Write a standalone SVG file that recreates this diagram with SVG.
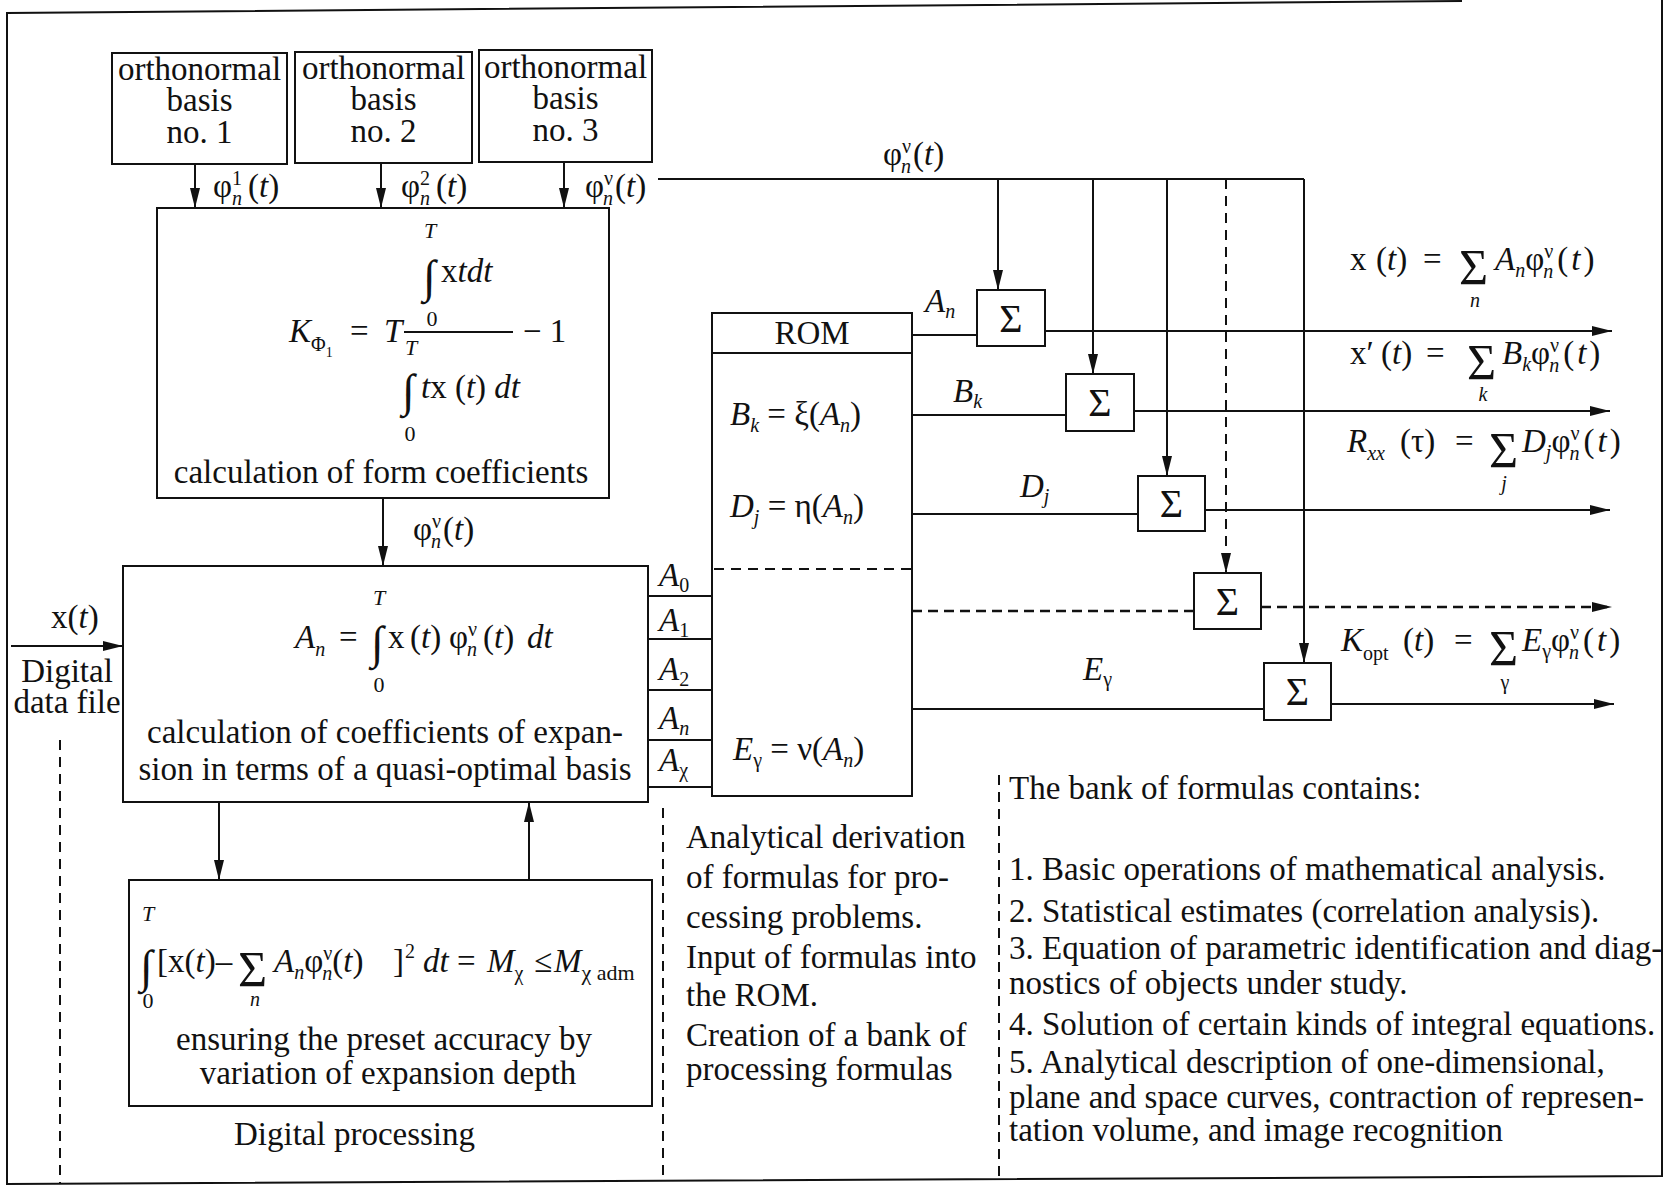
<svg xmlns="http://www.w3.org/2000/svg" width="1669" height="1189" viewBox="0 0 1669 1189">
<defs>
<style>
text{font-family:"Liberation Serif","Times New Roman",serif;font-size:33px;fill:#111}
.i{font-style:italic}
.s{font-size:20px}
.m{text-anchor:middle}
.lim{font-size:22px;text-anchor:middle}
.int{font-size:46px}
.sig{font-size:40px}
.box{fill:#fff;stroke:#111;stroke-width:2}
.ln{fill:none;stroke:#111;stroke-width:2}
.dash{fill:none;stroke:#111;stroke-width:2;stroke-dasharray:10 7}
.dashb{fill:none;stroke:#111;stroke-width:2.6;stroke-dasharray:10 6}
</style>
<marker id="ah" viewBox="0 0 20 10" refX="20" refY="5" markerWidth="20" markerHeight="10" markerUnits="userSpaceOnUse" orient="auto"><path d="M0,0 L20,5 L0,10 Z" fill="#111"/></marker>
</defs>
<rect width="1669" height="1189" fill="#fff"/>
<path class="ln" d="M1462,1 L7,13 L7,1184 L1662,1176 L1662,0"/>

<g id="connectors">
<line class="ln" x1="195" y1="164" x2="195" y2="208" marker-end="url(#ah)"/>
<line class="ln" x1="381" y1="163" x2="381" y2="208" marker-end="url(#ah)"/>
<line class="ln" x1="564" y1="162" x2="564" y2="208" marker-end="url(#ah)"/>
<line class="ln" x1="658" y1="179" x2="1304" y2="179"/>
<line class="ln" x1="998" y1="179" x2="998" y2="290" marker-end="url(#ah)"/>
<line class="ln" x1="1093" y1="179" x2="1093" y2="374" marker-end="url(#ah)"/>
<line class="ln" x1="1167" y1="179" x2="1167" y2="476" marker-end="url(#ah)"/>
<line class="dash" x1="1226" y1="179" x2="1226" y2="573" marker-end="url(#ah)"/>
<line class="ln" x1="1304" y1="179" x2="1304" y2="663" marker-end="url(#ah)"/>
<line class="ln" x1="383" y1="498" x2="383" y2="566" marker-end="url(#ah)"/>
<line class="ln" x1="11" y1="646" x2="123" y2="646" marker-end="url(#ah)"/>
<line class="ln" x1="219" y1="802" x2="219" y2="880" marker-end="url(#ah)"/>
<line class="ln" x1="529" y1="880" x2="529" y2="802" marker-end="url(#ah)"/>
<line class="ln" x1="912" y1="335" x2="977" y2="335"/>
<line class="ln" x1="1045" y1="331" x2="1612" y2="331" marker-end="url(#ah)"/>
<line class="ln" x1="912" y1="415" x2="1066" y2="415"/>
<line class="ln" x1="1134" y1="411" x2="1610" y2="411" marker-end="url(#ah)"/>
<line class="ln" x1="912" y1="514" x2="1138" y2="514"/>
<line class="ln" x1="1205" y1="510" x2="1610" y2="510" marker-end="url(#ah)"/>
<line class="dashb" x1="912" y1="611" x2="1194" y2="611"/>
<line class="dashb" x1="1261" y1="607" x2="1612" y2="607" marker-end="url(#ah)"/>
<line class="ln" x1="912" y1="709" x2="1264" y2="709"/>
<line class="ln" x1="1331" y1="704" x2="1614" y2="704" marker-end="url(#ah)"/>
<line class="dash" x1="60" y1="740" x2="60" y2="1183"/>
<line class="dash" x1="663" y1="808" x2="663" y2="1182"/>
<line class="dash" x1="999" y1="775" x2="999" y2="1180"/>
</g>

<g id="labels">
<text x="213" y="197">φ<tspan class="s" dy="-12">1</tspan><tspan class="s i" dx="-10" dy="20">n</tspan><tspan dy="-8" dx="6">(<tspan class="i">t</tspan>)</tspan></text>
<text x="401" y="197">φ<tspan class="s" dy="-12">2</tspan><tspan class="s i" dx="-10" dy="20">n</tspan><tspan dy="-8" dx="6">(<tspan class="i">t</tspan>)</tspan></text>
<text x="585" y="197">φ<tspan class="s" dy="-12">ν</tspan><tspan class="s i" dx="-10" dy="20">n</tspan><tspan dy="-8" dx="2">(<tspan class="i">t</tspan>)</tspan></text>
<text x="883" y="165">φ<tspan class="s" dy="-12">ν</tspan><tspan class="s i" dx="-10" dy="20">n</tspan><tspan dy="-8" dx="2">(<tspan class="i">t</tspan>)</tspan></text>
<text x="413" y="540">φ<tspan class="s" dy="-12">ν</tspan><tspan class="s i" dx="-10" dy="20">n</tspan><tspan dy="-8" dx="2">(<tspan class="i">t</tspan>)</tspan></text>
<text x="51" y="628">x(<tspan class="i">t</tspan>)</text>
<text class="m" x="67" y="682">Digital</text>
<text class="m" x="67" y="713">data file</text>
<text x="925" y="312"><tspan class="i">A</tspan><tspan class="s i" dy="6">n</tspan></text>
<text x="953" y="402"><tspan class="i">B</tspan><tspan class="s i" dy="6">k</tspan></text>
<text x="1020" y="497"><tspan class="i">D</tspan><tspan class="s i" dy="6">j</tspan></text>
<text x="1083" y="680"><tspan class="i">E</tspan><tspan class="s" dy="6">γ</tspan></text>
</g>

<g id="basis1">
<rect class="box" x="112" y="53" width="175" height="111"/>
<text class="m" x="199.5" y="80">orthonormal</text>
<text class="m" x="199.5" y="111">basis</text>
<text class="m" x="199.5" y="143">no. 1</text>
</g>
<g id="basis2">
<rect class="box" x="295" y="52" width="177" height="111"/>
<text class="m" x="383.5" y="79">orthonormal</text>
<text class="m" x="383.5" y="110">basis</text>
<text class="m" x="383.5" y="142">no. 2</text>
</g>
<g id="basis3">
<rect class="box" x="479" y="50" width="173" height="112"/>
<text class="m" x="565.5" y="78">orthonormal</text>
<text class="m" x="565.5" y="109">basis</text>
<text class="m" x="565.5" y="141">no. 3</text>
</g>

<g id="form-coefficients">
<rect class="box" x="157" y="208" width="452" height="290"/>
<text class="lim i" x="430" y="238">T</text>
<text class="int" x="423" y="292">∫</text>
<text x="441" y="282">x<tspan class="i">tdt</tspan></text>
<text class="lim" x="432" y="326">0</text>
<text x="289" y="342"><tspan class="i">K</tspan><tspan class="s" dy="9">Φ</tspan><tspan font-size="14" dy="6">1</tspan></text>
<text x="350" y="342">=</text>
<text class="i" x="384" y="342">T</text>
<line class="ln" x1="404" y1="332" x2="513" y2="332"/>
<text x="523" y="342">− 1</text>
<text class="lim i" x="411" y="355">T</text>
<text class="int" x="402" y="406">∫</text>
<text x="421" y="398"><tspan class="i">t</tspan>x (<tspan class="i">t</tspan>) <tspan class="i">dt</tspan></text>
<text class="lim" x="410" y="441">0</text>
<text class="m" x="381" y="483">calculation of form coefficients</text>
</g>

<g id="expansion-coefficients">
<rect class="box" x="123" y="566" width="525" height="236"/>
<text class="lim i" x="379" y="605">T</text>
<text x="295" y="648"><tspan class="i">A</tspan><tspan class="s i" dy="8">n</tspan></text>
<text x="339" y="648">=</text>
<text class="int" x="371" y="658">∫</text>
<text x="388" y="648">x</text>
<text x="410" y="648">(<tspan class="i">t</tspan>)</text>
<text x="449" y="648">φ<tspan class="s" dy="-12">ν</tspan><tspan class="s i" dx="-10" dy="20">n</tspan><tspan dy="-8" dx="6">(<tspan class="i">t</tspan>)</tspan></text>
<text class="i" x="527" y="648">dt</text>
<text class="lim" x="379" y="692">0</text>
<text class="m" x="385" y="743">calculation of coefficients of expan-</text>
<text class="m" x="385" y="780">sion in terms of a quasi-optimal basis</text>
</g>

<g id="coefficient-list">
<line class="ln" x1="648" y1="596" x2="714" y2="596"/>
<line class="ln" x1="648" y1="639" x2="714" y2="639"/>
<line class="ln" x1="648" y1="690" x2="714" y2="690"/>
<line class="ln" x1="648" y1="740" x2="714" y2="740"/>
<line class="ln" x1="648" y1="787" x2="714" y2="787"/>
<text x="659" y="586"><tspan class="i">A</tspan><tspan class="s" dy="6">0</tspan></text>
<text x="659" y="631"><tspan class="i">A</tspan><tspan class="s" dy="6">1</tspan></text>
<text x="659" y="680"><tspan class="i">A</tspan><tspan class="s" dy="6">2</tspan></text>
<text x="659" y="729"><tspan class="i">A</tspan><tspan class="s i" dy="6">n</tspan></text>
<text x="659" y="771"><tspan class="i">A</tspan><tspan class="s" dy="6">χ</tspan></text>
</g>

<g id="rom">
<rect class="box" x="712" y="313" width="200" height="483"/>
<line class="ln" x1="712" y1="353" x2="912" y2="353"/>
<line class="dash" x1="714" y1="569" x2="911" y2="569"/>
<text class="m" x="812" y="344">ROM</text>
<text x="730" y="425"><tspan class="i">B</tspan><tspan class="s i" dy="7">k</tspan><tspan dy="-7"> = ξ(</tspan><tspan class="i">A</tspan><tspan class="s i" dy="7">n</tspan><tspan dy="-7">)</tspan></text>
<text x="730" y="517"><tspan class="i">D</tspan><tspan class="s i" dy="7">j</tspan><tspan dy="-7"> = η(</tspan><tspan class="i">A</tspan><tspan class="s i" dy="7">n</tspan><tspan dy="-7">)</tspan></text>
<text x="733" y="760"><tspan class="i">E</tspan><tspan class="s" dy="7">γ</tspan><tspan dy="-7"> = ν(</tspan><tspan class="i">A</tspan><tspan class="s i" dy="7">n</tspan><tspan dy="-7">)</tspan></text>
</g>

<g id="sum1"><rect class="box" x="977" y="290" width="68" height="56"/><text class="sig m" x="1011" y="332">&#931;</text></g>
<g id="sum2"><rect class="box" x="1066" y="374" width="68" height="57"/><text class="sig m" x="1100" y="416">&#931;</text></g>
<g id="sum3"><rect class="box" x="1138" y="476" width="67" height="55"/><text class="sig m" x="1171.5" y="517">&#931;</text></g>
<g id="sum4"><rect class="box" x="1194" y="573" width="67" height="56"/><text class="sig m" x="1227.5" y="615">&#931;</text></g>
<g id="sum5"><rect class="box" x="1264" y="663" width="67" height="57"/><text class="sig m" x="1297.5" y="705">&#931;</text></g>

<g id="output-x">
<text x="1350" y="270">x</text>
<text x="1376" y="270">(<tspan class="i">t</tspan>)</text>
<text x="1423" y="270">=</text>
<text x="1459" y="284" style="font-size:50px">&#931;</text>
<text class="s i m" x="1475" y="307">n</text>
<text x="1495" y="270"><tspan class="i">A</tspan><tspan class="s i" dy="7">n</tspan><tspan dy="-7">φ</tspan><tspan class="s" dy="-12">ν</tspan><tspan class="s i" dx="-10" dy="20">n</tspan><tspan dy="-8" dx="4" letter-spacing="3">(<tspan class="i">t</tspan>)</tspan></text>
</g>
<g id="output-xprime">
<text x="1350" y="364">x′</text>
<text x="1381" y="364">(<tspan class="i">t</tspan>)</text>
<text x="1426" y="364">=</text>
<text x="1467" y="379" style="font-size:50px">&#931;</text>
<text class="s i m" x="1483" y="401">k</text>
<text x="1502" y="364"><tspan class="i">B</tspan><tspan class="s i" dy="7">k</tspan><tspan dy="-7">φ</tspan><tspan class="s" dy="-12">ν</tspan><tspan class="s i" dx="-10" dy="20">n</tspan><tspan dy="-8" dx="4" letter-spacing="3">(<tspan class="i">t</tspan>)</tspan></text>
</g>
<g id="output-rxx">
<text x="1347" y="452"><tspan class="i">R</tspan><tspan class="s i" dy="8">xx</tspan></text>
<text x="1400" y="452">(τ)</text>
<text x="1455" y="452">=</text>
<text x="1489" y="467" style="font-size:50px">&#931;</text>
<text class="s i m" x="1504" y="490">j</text>
<text x="1522" y="452"><tspan class="i">D</tspan><tspan class="s i" dy="7">j</tspan><tspan dy="-7">φ</tspan><tspan class="s" dy="-12">ν</tspan><tspan class="s i" dx="-10" dy="20">n</tspan><tspan dy="-8" dx="4" letter-spacing="3">(<tspan class="i">t</tspan>)</tspan></text>
</g>
<g id="output-kopt">
<text x="1341" y="651"><tspan class="i">K</tspan><tspan class="s" dy="9">opt</tspan></text>
<text x="1403" y="651">(<tspan class="i">t</tspan>)</text>
<text x="1454" y="651">=</text>
<text x="1489" y="665" style="font-size:50px">&#931;</text>
<text class="s m" x="1505" y="689">γ</text>
<text x="1522" y="651"><tspan class="i">E</tspan><tspan class="s" dy="7">γ</tspan><tspan dy="-7">φ</tspan><tspan class="s" dy="-12">ν</tspan><tspan class="s i" dx="-10" dy="20">n</tspan><tspan dy="-8" dx="4" letter-spacing="3">(<tspan class="i">t</tspan>)</tspan></text>
</g>

<g id="accuracy">
<rect class="box" x="129" y="880" width="523" height="226"/>
<text class="lim i" x="148" y="921">T</text>
<text class="int" x="140" y="982">∫</text>
<text class="lim" x="148" y="1008">0</text>
<text x="157" y="972">[x(<tspan class="i">t</tspan>)–</text>
<text x="238" y="986" style="font-size:50px">&#931;</text>
<text class="s i m" x="255" y="1006">n</text>
<text x="274" y="972"><tspan class="i">A</tspan><tspan class="s i" dy="7">n</tspan><tspan dy="-7">φ</tspan><tspan class="s" dy="-12">ν</tspan><tspan class="s i" dx="-10" dy="20">n</tspan><tspan dy="-8">(<tspan class="i">t</tspan>)</tspan></text>
<text x="393" y="972">]</text>
<text class="s" x="405" y="958">2</text>
<text class="i" x="423" y="972">dt</text>
<text x="457" y="972">=</text>
<text x="487" y="972"><tspan class="i">M</tspan><tspan class="s" dy="8">χ</tspan></text>
<text x="534" y="972">≤</text>
<text x="554" y="972"><tspan class="i">M</tspan><tspan font-size="22" dy="8">χ adm</tspan></text>
<text class="m" x="384" y="1050">ensuring the preset accuracy by</text>
<text class="m" x="388" y="1084">variation of expansion depth</text>
</g>

<g id="notes-digital">
<text x="234" y="1145">Digital processing</text>
</g>
<g id="notes-analytical">
<text x="686" y="848">Analytical derivation</text>
<text x="686" y="888">of formulas for pro-</text>
<text x="686" y="928">cessing problems.</text>
<text x="686" y="968">Input of formulas into</text>
<text x="686" y="1006">the ROM.</text>
<text x="686" y="1046">Creation of a bank of</text>
<text x="686" y="1080">processing formulas</text>
</g>
<g id="notes-bank">
<text x="1009" y="799">The bank of formulas contains:</text>
<text x="1009" y="880">1. Basic operations of mathematical analysis.</text>
<text x="1009" y="922">2. Statistical estimates (correlation analysis).</text>
<text x="1009" y="959">3. Equation of parametric identification and diag-</text>
<text x="1009" y="994">nostics of objects under study.</text>
<text x="1009" y="1035">4. Solution of certain kinds of integral equations.</text>
<text x="1009" y="1073">5. Analytical description of one-dimensional,</text>
<text x="1009" y="1108">plane and space curves, contraction of represen-</text>
<text x="1009" y="1141">tation volume, and image recognition</text>
</g>
</svg>
